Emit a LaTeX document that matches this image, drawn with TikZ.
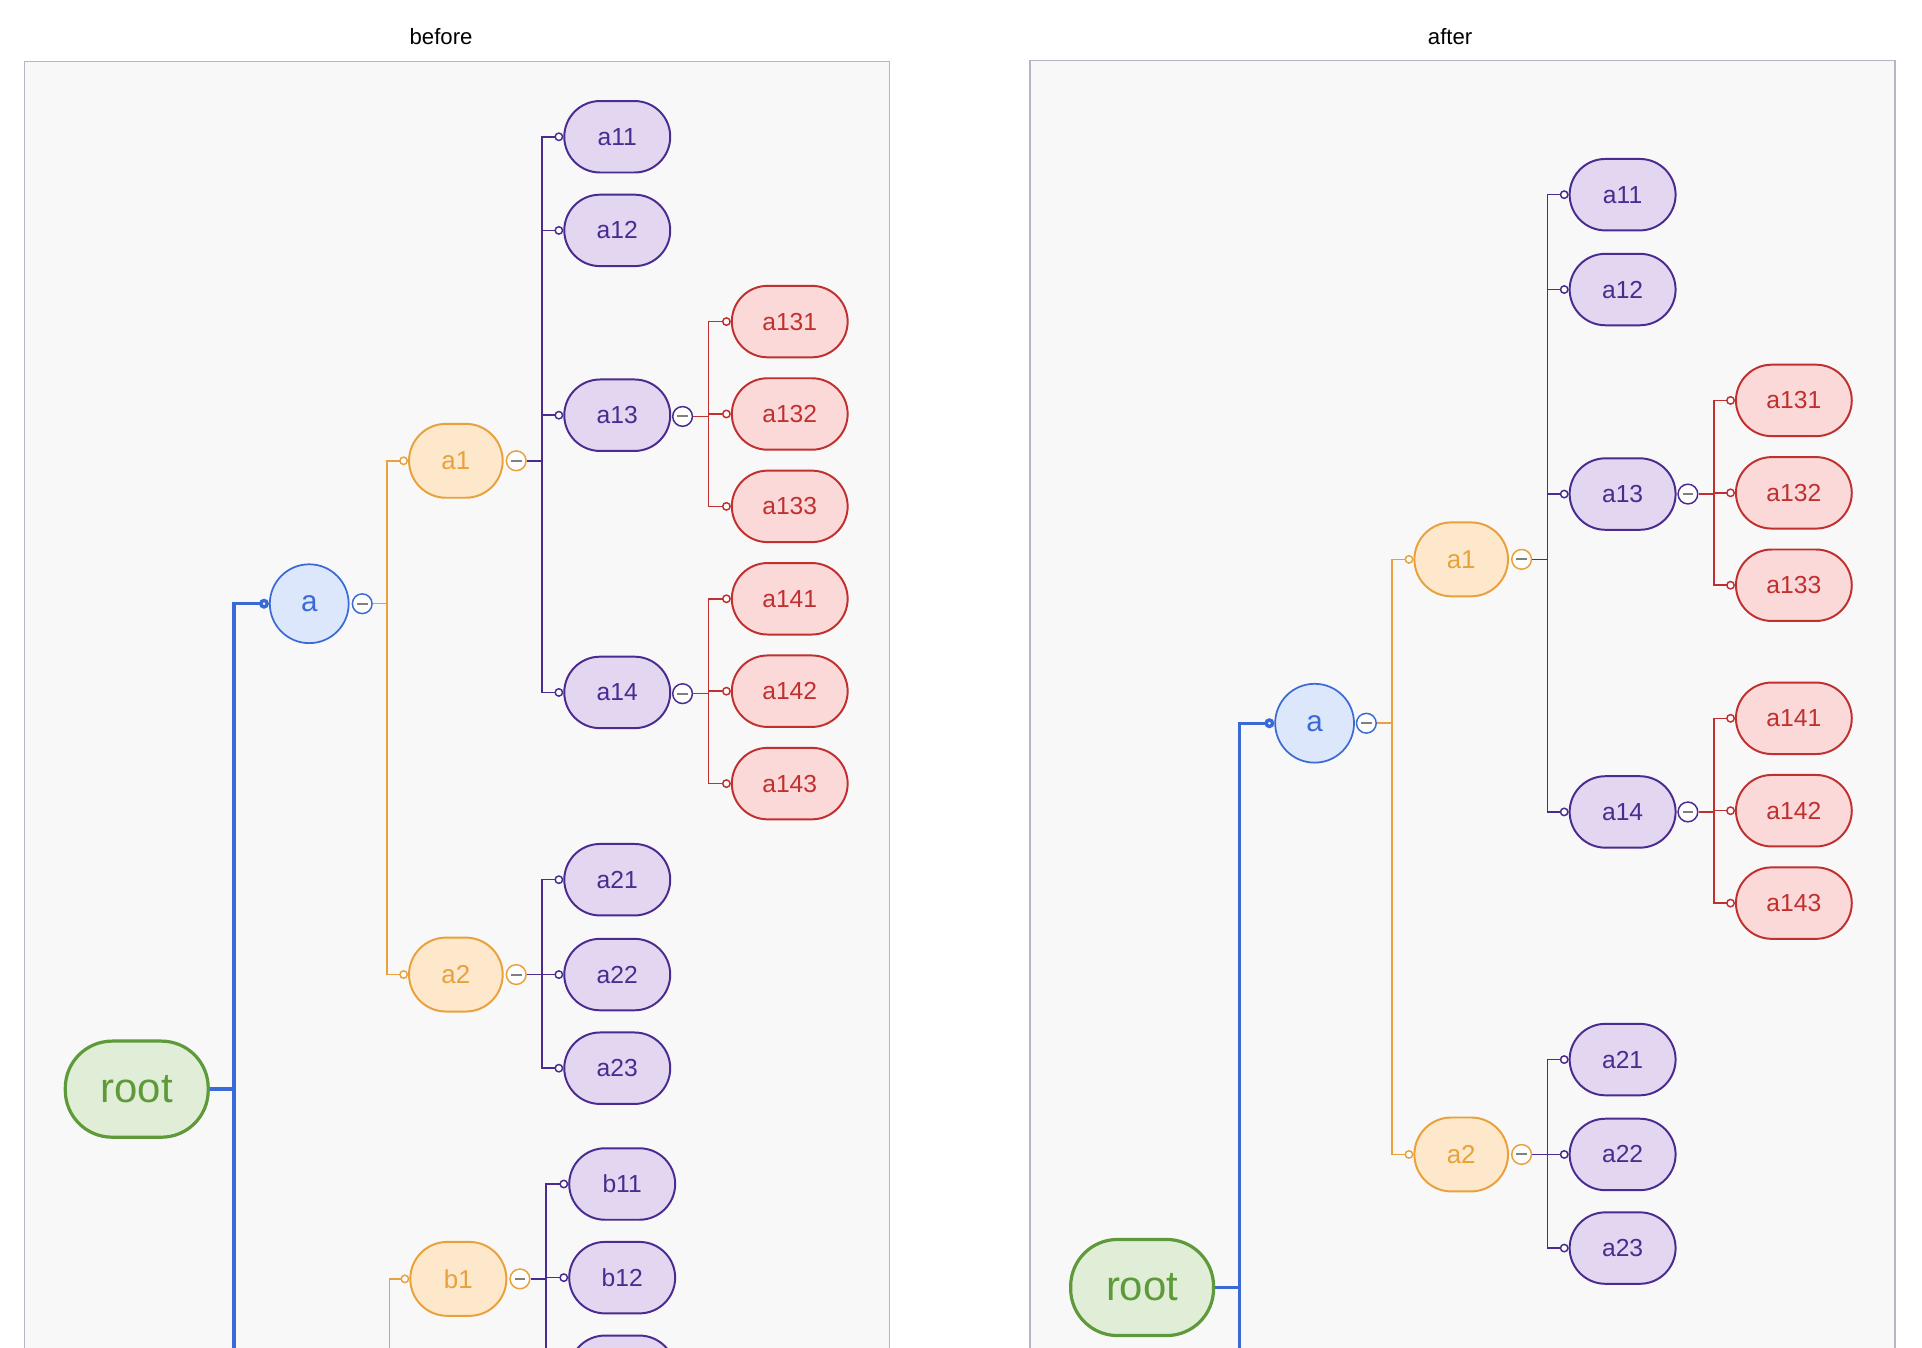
\documentclass[tikz,border=0pt]{standalone}
\usepackage{fontspec}
\setmainfont{Liberation Sans}
\usetikzlibrary{arrows.meta}
\definecolor{rootline}{HTML}{5E9A39}\definecolor{rootfill}{HTML}{E1EED7}
\definecolor{aline}{HTML}{3A6AD6}\definecolor{afill}{HTML}{DCE7FB}
\definecolor{oline}{HTML}{E9A13B}\definecolor{ofill}{HTML}{FDE8CC}
\definecolor{pline}{HTML}{4A2B8F}\definecolor{pfill}{HTML}{E2D6F1}
\definecolor{rline}{HTML}{C0302F}\definecolor{rfill}{HTML}{FBD9D9}
\definecolor{panelbg}{HTML}{F8F8F9}\definecolor{panelbd}{HTML}{B2B6C6}
\tikzset{
  pill/.style={draw, line width=0.8pt, rounded corners=14.5pt, minimum height=29pt, inner sep=0pt},
  lvroot/.style={draw=rootline, fill=rootfill, text=rootline, line width=1.3pt, rounded corners=19pt,
    minimum width=58pt, minimum height=39pt, font=\fontsize{17}{17}\selectfont},
  lva/.style={circle, draw=aline, fill=afill, text=aline, line width=0.7pt, minimum size=32pt,
    inner sep=0pt, font=\fontsize{12}{12}\selectfont},
  lv1/.style={pill, draw=oline, fill=ofill, text=oline, minimum width=38pt, minimum height=30pt,
    rounded corners=15pt, font=\fontsize{10.5}{10.5}\selectfont},
  lv2/.style={pill, draw=pline, fill=pfill, text=pline, minimum width=43pt, font=\fontsize{10}{10}\selectfont},
  lv3/.style={pill, draw=rline, fill=rfill, text=rline, minimum width=47pt, font=\fontsize{10}{10}\selectfont},
  btn/.style={circle, draw=#1, fill=white, line width=0.6pt, minimum size=8pt, inner sep=0pt,
    path picture={\draw[gray, line width=0.8pt] (-2.2pt,0) -- (2.2pt,0);}},
  link/.style={draw=#1, line width=0.6pt, -{Circle[open, length=3.6pt, fill=white]}},
  bus/.style={draw=#1, line width=0.6pt},
  trunk/.style={draw=aline, line width=1.4pt},
  panel/.style={fill=panelbg, draw=panelbd, line width=0.5pt},
  title/.style={font=\fontsize{9}{9}\selectfont}
}
\begin{document}
\begin{tikzpicture}[x=0.5pt, y=-0.5pt]
  \useasboundingbox (0,0) rectangle (1560,1094);

  % before
  \node[title] (Ltitle) at (358,30) {before};
  \draw[panel] (20,50) rectangle (722,1120);
  \node[lvroot] (Lroot) at (111,884) {root};
  \node[lva] (La) at (251,490) {a};
  \node[lv1] (La1) at (370,374) {a1};
  \node[lv1] (La2) at (370,791) {a2};
  \node[lv1, minimum width=39pt] (Lb1) at (372,1038) {b1};
  \foreach \n/\y in {a11/111, a12/187, a13/337, a14/562, a21/714, a22/791, a23/867}
    \node[lv2] (L\n) at (501,\y) {\n};
  \foreach \n/\y in {b11/961, b12/1037, b13/1113}
    \node[lv2] (L\n) at (505,\y) {\n};
  \foreach \n/\y in {a131/261, a132/336, a133/411, a141/486, a142/561, a143/636}
    \node[lv3] (L\n) at (641,\y) {\n};
  \node[btn=aline] (Lab) at (294,490) {};
  \node[btn=oline] (La1b) at (419,374) {};
  \node[btn=oline] (La2b) at (419,791) {};
  \node[btn=oline] (Lb1b) at (422,1038) {};
  \node[btn=pline] (La13b) at (554,338) {};
  \node[btn=pline] (La14b) at (554,563) {};
  \coordinate (Lrootbus) at (190,884);
  \coordinate (Lrootend) at (190,1120);
  \coordinate (Labus) at (314,490);
  \coordinate (Lbbus) at (316,1120);
  \coordinate (La1bus) at (440,374);
  \coordinate (La2bus) at (440,791);
  \coordinate (Lb1bus) at (443,1038);
  \coordinate (La13bus) at (575,338);
  \coordinate (La14bus) at (575,563);

  \draw[trunk] (Lroot.east) -- (Lrootbus);
  \draw[trunk, -{Circle[open, length=4pt, fill=white]}] (Lrootend) |- (La.west);
  \draw[bus=oline] (Lab) -- (Labus);
  \draw[link=oline] (Labus) |- (La1.west);
  \draw[link=oline] (Labus) |- (La2.west);
  \draw[link=oline] (Lbbus) |- (Lb1.west);
  \draw[bus=pline] (La1b) -- (La1bus);
  \foreach \n in {a11, a12, a13, a14}
    \draw[link=pline] (La1bus) |- (L\n.west);
  \draw[bus=pline] (La2b) -- (La2bus);
  \foreach \n in {a21, a22, a23}
    \draw[link=pline] (La2bus) |- (L\n.west);
  \draw[bus=pline] (Lb1b) -- (Lb1bus);
  \foreach \n in {b11, b12, b13}
    \draw[link=pline] (Lb1bus) |- (L\n.west);
  \draw[bus=rline] (La13b) -- (La13bus);
  \foreach \n in {a131, a132, a133}
    \draw[link=rline] (La13bus) |- (L\n.west);
  \draw[bus=rline] (La14b) -- (La14bus);
  \foreach \n in {a141, a142, a143}
    \draw[link=rline] (La14bus) |- (L\n.west);

  % after
  \node[title] (Rtitle) at (1177,30) {after};
  \draw[panel] (836,49) rectangle (1538,1120);
  \node[lvroot] (Rroot) at (927,1045) {root};
  \node[lva] (Ra) at (1067,587) {a};
  \node[lv1] (Ra1) at (1186,454) {a1};
  \node[lv1] (Ra2) at (1186,937) {a2};
  \foreach \n/\y in {a11/158, a12/235, a13/401, a14/659, a21/860, a22/937, a23/1013}
    \node[lv2] (R\n) at (1317,\y) {\n};
  \foreach \n/\y in {a131/325, a132/400, a133/475, a141/583, a142/658, a143/733}
    \node[lv3] (R\n) at (1456,\y) {\n};
  \node[btn=aline] (Rab) at (1109,587) {};
  \node[btn=oline] (Ra1b) at (1235,454) {};
  \node[btn=oline] (Ra2b) at (1235,937) {};
  \node[btn=pline] (Ra13b) at (1370,401) {};
  \node[btn=pline] (Ra14b) at (1370,659) {};
  \coordinate (Rrootbus) at (1006,1045);
  \coordinate (Rrootend) at (1006,1120);
  \coordinate (Rabus) at (1130,587);
  \coordinate (Ra1bus) at (1256,454);
  \coordinate (Ra2bus) at (1256,937);
  \coordinate (Ra13bus) at (1391,401);
  \coordinate (Ra14bus) at (1391,659);

  \draw[trunk] (Rroot.east) -- (Rrootbus);
  \draw[trunk, -{Circle[open, length=4pt, fill=white]}] (Rrootend) |- (Ra.west);
  \draw[bus=oline] (Rab) -- (Rabus);
  \draw[link=oline] (Rabus) |- (Ra1.west);
  \draw[link=oline] (Rabus) |- (Ra2.west);
  \draw[bus=pline] (Ra1b) -- (Ra1bus);
  \foreach \n in {a11, a12, a13, a14}
    \draw[link=pline] (Ra1bus) |- (R\n.west);
  \draw[bus=pline] (Ra2b) -- (Ra2bus);
  \foreach \n in {a21, a22, a23}
    \draw[link=pline] (Ra2bus) |- (R\n.west);
  \draw[bus=rline] (Ra13b) -- (Ra13bus);
  \foreach \n in {a131, a132, a133}
    \draw[link=rline] (Ra13bus) |- (R\n.west);
  \draw[bus=rline] (Ra14b) -- (Ra14bus);
  \foreach \n in {a141, a142, a143}
    \draw[link=rline] (Ra14bus) |- (R\n.west);
\end{tikzpicture}
\end{document}
